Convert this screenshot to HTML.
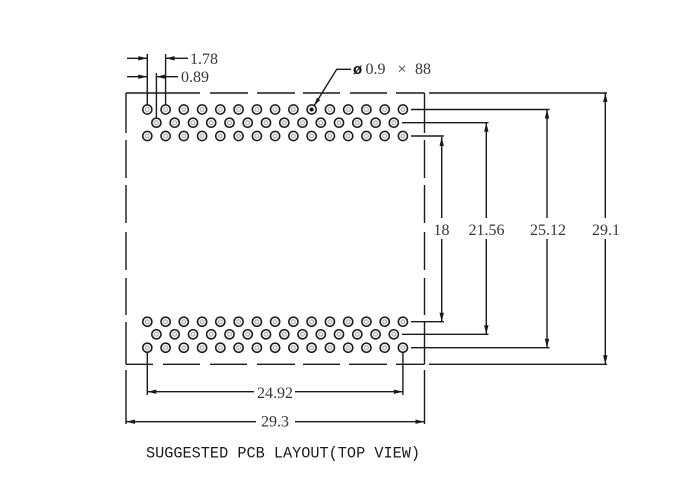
<!DOCTYPE html>
<html><head><meta charset="utf-8"><style>
html,body{margin:0;padding:0;background:#fff;}
svg{display:block;}
.l{stroke:#1a1a1a;stroke-width:1.4;fill:none;}
.t{font-family:"Liberation Serif",serif;font-size:16px;fill:#383838;text-anchor:middle;}
</style></head><body>
<svg width="700" height="500" viewBox="0 0 700 500" xmlns="http://www.w3.org/2000/svg">
<defs>
<g id="p"><circle r="4.6" fill="#f3f3f3" stroke="#1a1a1a" stroke-width="1.5"/><circle r="1.9" fill="none" stroke="#9a9a9a" stroke-width="0.8"/></g>
</defs>
<!-- dashed outline -->
<g class="l">
<path d="M126 93H200M210 93H248M257 93H295M303 93H340M350 93H387M396 93H424.5M429 93H607"/>
<path d="M126 364.3H153M163 364.3H200M210 364.3H247M257 364.3H295M303 364.3H340M349 364.3H387M396 364.3H424.5M429 364.3H607"/>
<path d="M126 93V133M126 140V178M126 185V223M126 232V270M126 278V315M126 322V364.3M126 370V424"/>
<path d="M424.5 93V133M424.5 140V178M424.5 185V223M424.5 232V270M424.5 278V315M424.5 322V364.3M424.5 370V424"/>
<!-- right extension lines -->
<path d="M411 109.5H549.5M402 122.7H488.5M411 136H444M411 321.7H444M402 334.3H488.5M411 347.7H549.5"/>
<!-- right dim lines -->
<path d="M441.7 137V218M441.7 239V321.7M486.3 122.7V218M486.3 239V334.3M547 109.5V218M547 239V347.7M605.3 93V218M605.3 239V364.3"/>
<!-- bottom dims -->
<path d="M147.3 353V395M402.9 353V395M147.3 391.7H254M295 391.7H402.9M126 421.7H256M295 421.7H424.5"/>
<!-- top dims -->
<path d="M147.3 54V104.5M165.6 54V104.5M156.4 73V117.5M127 58.3H147.3M165.6 58.3H188M127 76.7H147.3M156.4 76.7H178"/>
<!-- leader -->
<path d="M351 69.3H336.7L314.2 105.6"/>
</g>
<!-- arrowheads -->
<g fill="#1a1a1a">
<polygon points="441.7,137 439.5,146 443.9,146"/>
<polygon points="441.7,321.7 439.5,312.7 443.9,312.7"/>
<polygon points="486.3,122.7 484.1,131.7 488.5,131.7"/>
<polygon points="486.3,334.3 484.1,325.3 488.5,325.3"/>
<polygon points="547,109.5 544.8,118.5 549.2,118.5"/>
<polygon points="547,347.7 544.8,338.7 549.2,338.7"/>
<polygon points="605.3,93 603.1,102 607.5,102"/>
<polygon points="605.3,364.3 603.1,355.3 607.5,355.3"/>
<polygon points="147.3,391.7 156.3,389.5 156.3,393.9"/>
<polygon points="402.9,391.7 393.9,389.5 393.9,393.9"/>
<polygon points="126,421.7 135,419.5 135,423.9"/>
<polygon points="424.5,421.7 415.5,419.5 415.5,423.9"/>
<polygon points="147.3,58.3 138.3,56.1 138.3,60.5"/>
<polygon points="165.6,58.3 174.6,56.1 174.6,60.5"/>
<polygon points="147.3,76.7 138.3,74.5 138.3,78.9"/>
<polygon points="156.4,76.7 165.4,74.5 165.4,78.9"/>
<polygon points="314.2,105.6 320.3,100.0 316.9,97.8"/>
</g>
<!-- pins top block -->
<g>
<use href="#p" x="147.3" y="109.5"/><use href="#p" x="165.6" y="109.5"/><use href="#p" x="183.8" y="109.5"/><use href="#p" x="202.1" y="109.5"/><use href="#p" x="220.3" y="109.5"/><use href="#p" x="238.6" y="109.5"/><use href="#p" x="256.9" y="109.5"/><use href="#p" x="275.1" y="109.5"/><use href="#p" x="293.4" y="109.5"/><use href="#p" x="311.6" y="109.5"/><use href="#p" x="329.9" y="109.5"/><use href="#p" x="348.2" y="109.5"/><use href="#p" x="366.4" y="109.5"/><use href="#p" x="384.7" y="109.5"/><use href="#p" x="402.9" y="109.5"/>
<use href="#p" x="156.4" y="122.7"/><use href="#p" x="174.7" y="122.7"/><use href="#p" x="193.0" y="122.7"/><use href="#p" x="211.2" y="122.7"/><use href="#p" x="229.5" y="122.7"/><use href="#p" x="247.7" y="122.7"/><use href="#p" x="266.0" y="122.7"/><use href="#p" x="284.3" y="122.7"/><use href="#p" x="302.5" y="122.7"/><use href="#p" x="320.8" y="122.7"/><use href="#p" x="339.0" y="122.7"/><use href="#p" x="357.3" y="122.7"/><use href="#p" x="375.6" y="122.7"/><use href="#p" x="393.8" y="122.7"/>
<use href="#p" x="147.3" y="136"/><use href="#p" x="165.6" y="136"/><use href="#p" x="183.8" y="136"/><use href="#p" x="202.1" y="136"/><use href="#p" x="220.3" y="136"/><use href="#p" x="238.6" y="136"/><use href="#p" x="256.9" y="136"/><use href="#p" x="275.1" y="136"/><use href="#p" x="293.4" y="136"/><use href="#p" x="311.6" y="136"/><use href="#p" x="329.9" y="136"/><use href="#p" x="348.2" y="136"/><use href="#p" x="366.4" y="136"/><use href="#p" x="384.7" y="136"/><use href="#p" x="402.9" y="136"/>
</g>
<circle cx="311.6" cy="109.5" r="1.8" fill="#111"/>
<!-- pins bottom block -->
<g>
<use href="#p" x="147.3" y="321.7"/><use href="#p" x="165.6" y="321.7"/><use href="#p" x="183.8" y="321.7"/><use href="#p" x="202.1" y="321.7"/><use href="#p" x="220.3" y="321.7"/><use href="#p" x="238.6" y="321.7"/><use href="#p" x="256.9" y="321.7"/><use href="#p" x="275.1" y="321.7"/><use href="#p" x="293.4" y="321.7"/><use href="#p" x="311.6" y="321.7"/><use href="#p" x="329.9" y="321.7"/><use href="#p" x="348.2" y="321.7"/><use href="#p" x="366.4" y="321.7"/><use href="#p" x="384.7" y="321.7"/><use href="#p" x="402.9" y="321.7"/>
<use href="#p" x="156.4" y="334.3"/><use href="#p" x="174.7" y="334.3"/><use href="#p" x="193.0" y="334.3"/><use href="#p" x="211.2" y="334.3"/><use href="#p" x="229.5" y="334.3"/><use href="#p" x="247.7" y="334.3"/><use href="#p" x="266.0" y="334.3"/><use href="#p" x="284.3" y="334.3"/><use href="#p" x="302.5" y="334.3"/><use href="#p" x="320.8" y="334.3"/><use href="#p" x="339.0" y="334.3"/><use href="#p" x="357.3" y="334.3"/><use href="#p" x="375.6" y="334.3"/><use href="#p" x="393.8" y="334.3"/>
<use href="#p" x="147.3" y="347.7"/><use href="#p" x="165.6" y="347.7"/><use href="#p" x="183.8" y="347.7"/><use href="#p" x="202.1" y="347.7"/><use href="#p" x="220.3" y="347.7"/><use href="#p" x="238.6" y="347.7"/><use href="#p" x="256.9" y="347.7"/><use href="#p" x="275.1" y="347.7"/><use href="#p" x="293.4" y="347.7"/><use href="#p" x="311.6" y="347.7"/><use href="#p" x="329.9" y="347.7"/><use href="#p" x="348.2" y="347.7"/><use href="#p" x="366.4" y="347.7"/><use href="#p" x="384.7" y="347.7"/><use href="#p" x="402.9" y="347.7"/>
</g>
<!-- labels -->
<text class="t" x="204" y="64">1.78</text>
<text class="t" x="195" y="82">0.89</text>
<text x="353" y="74" font-family="Liberation Sans,sans-serif" font-size="15" font-weight="bold" fill="#111">ø</text>
<text class="t" x="375.5" y="74">0.9</text>
<text class="t" x="402" y="74" font-size="15">×</text>
<text class="t" x="423" y="74">88</text>
<text class="t" x="441.5" y="235">18</text>
<text class="t" x="486.5" y="235">21.56</text>
<text class="t" x="548" y="235">25.12</text>
<text class="t" x="606" y="235">29.1</text>
<text class="t" x="275" y="398">24.92</text>
<text class="t" x="275" y="426.5">29.3</text>
<text x="146" y="457.7" font-family="Liberation Mono,monospace" font-size="16" fill="#1a1a1a" textLength="274" lengthAdjust="spacingAndGlyphs">SUGGESTED PCB LAYOUT(TOP VIEW)</text>
</svg>
</body></html>
